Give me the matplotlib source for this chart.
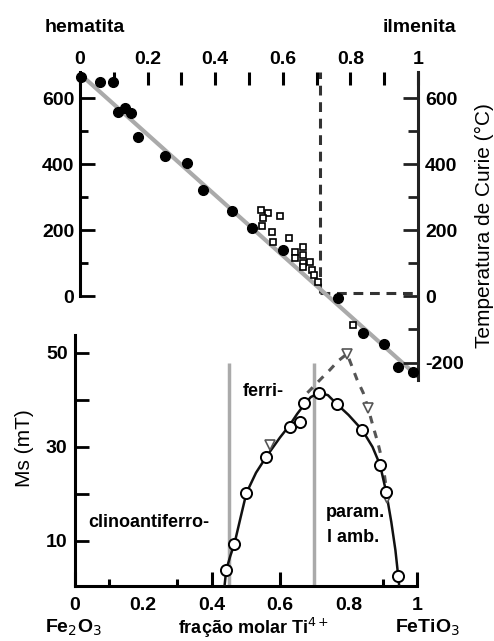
import matplotlib
matplotlib.use("Agg")
import matplotlib.pyplot as plt
from matplotlib.ticker import FixedLocator

plt.rcParams['font.family'] = ['Liberation Sans', 'DejaVu Sans']

# --- Curie temperature vs. Ti fraction (top panel) ---
curie_circ_x = [0.003, 0.059, 0.098, 0.112, 0.133, 0.151, 0.172, 0.251, 0.316, 0.364,
                0.45, 0.509, 0.60, 0.764, 0.837, 0.90, 0.94, 0.985]
curie_circ_T = [665, 650, 650, 558, 570, 555, 483, 427, 403, 323,
                259, 208, 140, -5, -111, -144, -214, -229]

curie_sq_x = [0.536, 0.556, 0.541, 0.538, 0.592, 0.568, 0.571, 0.618, 0.636, 0.660,
              0.636, 0.660, 0.660, 0.680, 0.660, 0.686, 0.692, 0.704, 0.808]
curie_sq_T = [262, 253, 238, 214, 244, 195, 165, 177, 135, 150,
              117, 126, 101, 104, 89, 80, 65, 44, -86]

trend_x = [0.0, 1.0]
trend_T = [674, -243]

cross_x = 0.71
cross_T = 12

# --- Saturation magnetisation vs. Ti fraction (bottom panel) ---
ms_circ_x = [0.443, 0.467, 0.502, 0.560, 0.628, 0.657, 0.671, 0.715, 0.766, 0.840,
             0.892, 0.910, 0.945]
ms_circ_v = [3.8, 9.4, 20.2, 27.9, 34.3, 35.3, 39.4, 41.5, 39.1, 33.6,
             26.2, 20.4, 2.6]

ms_tri_x = [0.571, 0.796, 0.857, 0.912]
ms_tri_v = [30.4, 49.8, 38.3, 19.1]

ms_curve_x = [0.438, 0.443, 0.455, 0.467, 0.485, 0.502, 0.530, 0.560, 0.600, 0.628,
              0.650, 0.671, 0.690, 0.715, 0.740, 0.766, 0.800, 0.840, 0.870, 0.892,
              0.910, 0.925, 0.937, 0.945, 0.948]
ms_curve_v = [0.4, 3.8, 6.8, 9.4, 15.0, 20.2, 24.5, 27.9, 32.0, 34.6,
              37.0, 39.0, 40.6, 41.5, 41.0, 39.1, 36.8, 33.6, 30.0, 26.2,
              20.4, 14.0, 8.0, 2.6, 0.4]

ms_dash_x = [0.680, 0.720, 0.746, 0.770, 0.796, 0.825, 0.843, 0.857, 0.872, 0.886,
             0.900, 0.915]
ms_dash_v = [41.5, 44.5, 46.4, 48.3, 49.8, 44.3, 41.5, 38.3, 34.3, 30.8,
             26.6, 18.7]

phase_bounds = [0.45, 0.70]
phase_top = 47.9

top_xticks = [0, 0.2, 0.4, 0.6, 0.8, 1]
top_xticklabels = ['0', '0.2', '0.4', '0.6', '0.8', '1']
curie_ticks = [0, 200, 400, 600]
curie_ticks_right = [-200, 0, 200, 400, 600]
ms_ticks = [10, 20, 30, 40, 50]
ms_ticklabels = ['10', '', '30', '', '50']

W, H = 494, 641
fig = plt.figure(figsize=(W / 100, H / 100), dpi=100)


def fig_box(x0, y0, x1, y1):
    return [x0 / W, 1 - y1 / H, (x1 - x0) / W, (y1 - y0) / H]


TICKFONT = dict(fontsize=14, fontweight='bold')

# ---------------- top panel ----------------
ax1 = fig.add_axes(fig_box(80, 72, 418, 380))
ax1.set_xlim(0, 1)
ax1.set_ylim(-253, 680)
ax1.patch.set_alpha(0)
for s in ['top', 'bottom']:
    ax1.spines[s].set_visible(False)
ax1.spines['left'].set_bounds(0, 680)
ax1.spines['left'].set_linewidth(2.2)
ax1.spines['right'].set_linewidth(2.2)
ax1.spines['right'].set_color('#222222')

ax1.plot(trend_x, trend_T, color='#aaaaaa', lw=3, zorder=2, solid_capstyle='butt')
ax1.plot([cross_x, cross_x], [cross_T, 680], color='#333333', lw=2.2,
         ls=(0, (3.2, 2.2)), zorder=1)
ax1.plot([cross_x, 1], [cross_T, cross_T], color='#333333', lw=2.2,
         ls=(0, (3.2, 2.2)), zorder=1)
ax1.plot(curie_sq_x, curie_sq_T, 's', ms=5, mfc='white', mec='black', mew=1.2,
         zorder=3, clip_on=False)
ax1.plot(curie_circ_x, curie_circ_T, 'o', ms=7, color='black', zorder=4, clip_on=False)

ax1.xaxis.set_ticks_position('top')
ax1.set_xticks(top_xticks)
ax1.set_xticklabels(top_xticklabels, **TICKFONT)
ax1.xaxis.set_minor_locator(FixedLocator([0.1, 0.3, 0.5, 0.7, 0.9]))
ax1.tick_params(axis='x', which='both', direction='in', length=9, width=2.2,
                pad=3, top=True, bottom=False, labeltop=True, labelbottom=False)

ax1.set_yticks(curie_ticks)
ax1.set_yticklabels([str(t) for t in curie_ticks], **TICKFONT)
ax1.yaxis.set_minor_locator(FixedLocator([100, 300, 500]))
ax1.tick_params(axis='y', which='major', direction='in', length=11, width=2, pad=4)
ax1.tick_params(axis='y', which='minor', direction='in', length=6, width=2)
ax1.tick_params(axis='y', which='both', left=True, right=False)

axr = ax1.twinx()
axr.set_ylim(ax1.get_ylim())
axr.patch.set_alpha(0)
for s in ['top', 'bottom', 'left', 'right']:
    axr.spines[s].set_visible(False)
axr.set_yticks(curie_ticks_right)
axr.set_yticklabels([str(t) for t in curie_ticks_right], **TICKFONT)
axr.yaxis.set_minor_locator(FixedLocator([-100, 100, 300, 500]))
axr.tick_params(axis='y', which='major', direction='in', length=11, width=2,
                pad=5, color='#222222')
axr.tick_params(axis='y', which='minor', direction='in', length=7, width=2,
                color='#222222')
axr.set_ylabel('Temperatura de Curie (°C)', fontsize=15, labelpad=8)

# ---------------- bottom panel ----------------
ax2 = fig.add_axes(fig_box(74.5, 335, 417, 586))
ax2.set_xlim(0, 1)
ax2.set_ylim(0.4, 53.8)
ax2.patch.set_alpha(0)
for s in ['top', 'right']:
    ax2.spines[s].set_visible(False)
for s in ['left', 'bottom']:
    ax2.spines[s].set_linewidth(2.2)

ax2.vlines(phase_bounds, 0.4, phase_top, color='#aaaaaa', lw=2.5, zorder=1)
ax2.plot(ms_dash_x, ms_dash_v, color='#555555', lw=2.2, ls=(0, (2.5, 2.5)), zorder=2)
ax2.plot(ms_curve_x, ms_curve_v, color='#111111', lw=1.8, zorder=3)
ax2.plot(ms_tri_x, ms_tri_v, 'v', ms=7, mfc='white', mec='#555555', mew=1.2, zorder=4)
ax2.plot(ms_circ_x, ms_circ_v, 'o', ms=8, mfc='white', mec='black', mew=1.4, zorder=5)

ax2.set_xticks(top_xticks)
ax2.set_xticklabels(top_xticklabels, **TICKFONT)
ax2.xaxis.set_minor_locator(FixedLocator([0.1, 0.3, 0.9]))
ax2.tick_params(axis='x', which='major', direction='in', length=10, width=2.2, pad=8)
ax2.tick_params(axis='x', which='minor', direction='in', length=5, width=2.2)
for i, tk in enumerate(ax2.xaxis.get_major_ticks()):
    if top_xticks[i] in (0.2, 0.8):
        tk.tick1line.set_markersize(0)

ax2.set_yticks(ms_ticks)
ax2.set_yticklabels(ms_ticklabels, **TICKFONT)
ax2.tick_params(axis='y', direction='in', length=10, width=2, pad=5)

ax2.text(0.49, 41.8, 'ferri-', fontsize=13, fontweight='bold', ha='left', va='center')
ax2.text(0.04, 14.0, 'clinoantiferro-', fontsize=13, fontweight='bold',
         ha='left', va='center')
ax2.text(0.733, 16.0, 'param.', fontsize=13, fontweight='bold', ha='left', va='center')
ax2.text(0.738, 10.8, 'l amb.', fontsize=13, fontweight='bold', ha='left', va='center')

# ---------------- figure labels ----------------
fig.text(24 / W, 1 - 448 / H, 'Ms (mT)', fontsize=15, rotation=90,
         ha='center', va='center')
fig.text(85 / W, 1 - 27 / H, 'hematita', fontsize=14, fontweight='bold',
         ha='center', va='center')
fig.text(419 / W, 1 - 27 / H, 'ilmenita', fontsize=14, fontweight='bold',
         ha='center', va='center')
fig.text(74 / W, 1 - 628 / H, 'Fe$_2$O$_3$', fontsize=14, fontweight='bold',
         ha='center', va='center')
fig.text(253 / W, 1 - 628 / H, 'fração molar Ti$^{4+}$', fontsize=13,
         fontweight='bold', ha='center', va='center')
fig.text(427 / W, 1 - 628 / H, 'FeTiO$_3$', fontsize=14, fontweight='bold',
         ha='center', va='center')

fig.savefig('out.png', dpi=100)
